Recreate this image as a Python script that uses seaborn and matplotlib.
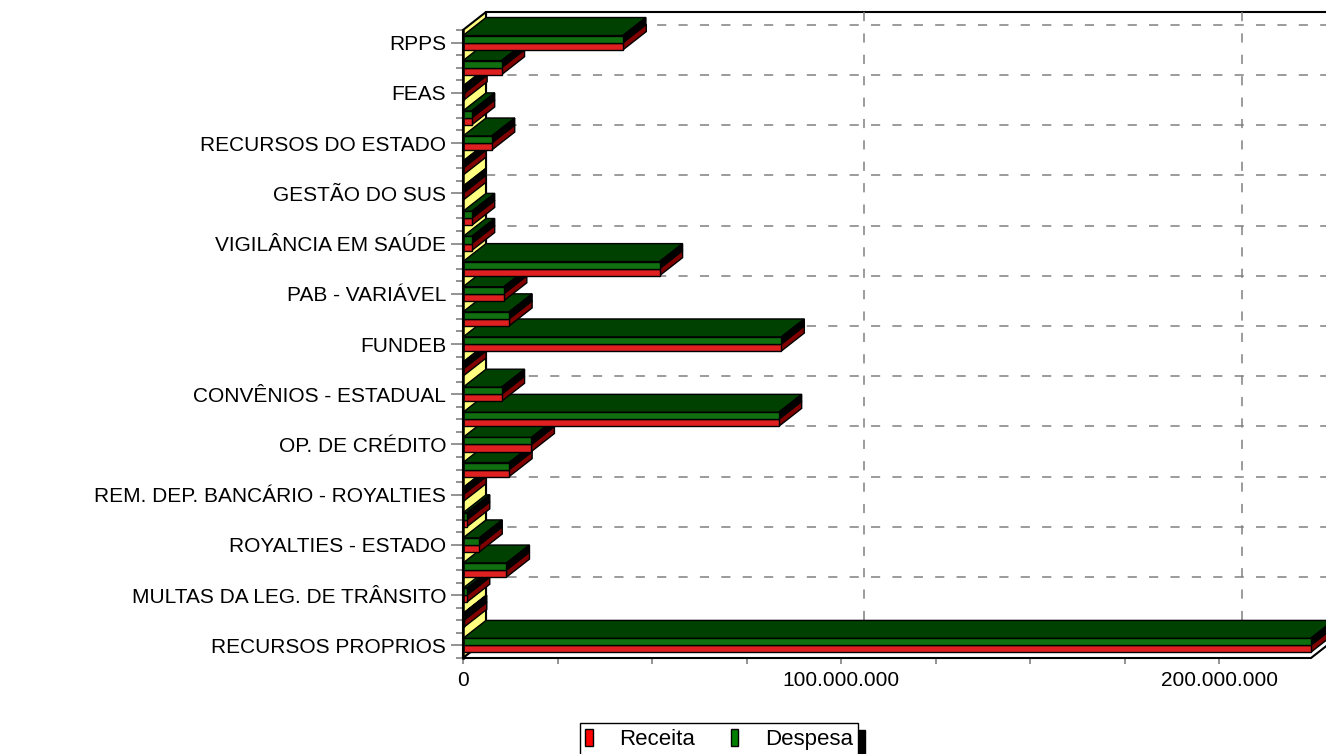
import matplotlib
matplotlib.use("Agg")
import numpy as np
import pandas as pd
import matplotlib.pyplot as plt
from matplotlib.patches import Polygon, Rectangle, Patch
from matplotlib.ticker import FuncFormatter, MultipleLocator
import seaborn as sns

# rotulos que aparecem no eixo (uma fonte sim, outra nao)
labels = ["RPPS", "FEAS", "RECURSOS DO ESTADO", "GESTÃO DO SUS",
          "VIGILÂNCIA EM SAÚDE", "PAB - VARIÁVEL", "FUNDEB",
          "CONVÊNIOS - ESTADUAL", "OP. DE CRÉDITO",
          "REM. DEP. BANCÁRIO - ROYALTIES", "ROYALTIES - ESTADO",
          "MULTAS DA LEG. DE TRÂNSITO", "RECURSOS PROPRIOS"]

# valores em R$ por fonte, de cima para baixo (25 fontes)
receita = [42.4e6, 10.2e6, 0.3e6, 2.3e6, 7.6e6, 0, 0, 2.3e6, 2.3e6, 52.0e6,
           10.8e6, 12.2e6, 84.2e6, 0, 10.2e6, 83.5e6, 18.1e6, 12.2e6, 0,
           1.0e6, 4.3e6, 11.5e6, 1.0e6, 0.2e6, 224.2e6]
despesa = [42.3e6, 10.2e6, 0.5e6, 2.3e6, 7.6e6, 0, 0, 2.3e6, 2.3e6, 52.0e6,
           10.8e6, 12.2e6, 84.2e6, 0, 10.2e6, 83.5e6, 18.1e6, 12.2e6, 0,
           1.0e6, 4.3e6, 11.5e6, 1.0e6, 0.2e6, 224.2e6]

n = len(receita)
pos = list(range(n))
df = pd.DataFrame({
    "pos": pos + pos,
    "valor": receita + despesa,
    "serie": ["Receita"] * n + ["Despesa"] * n,
})

sns.set_style("white")
plt.rcParams["font.family"] = ["Liberation Sans", "DejaVu Sans"]
plt.rcParams["text.color"] = "black"
FS = 15

W, H = 1326, 754
fig = plt.figure(figsize=(W / 100, H / 100), dpi=100)
ax = fig.add_axes([463 / W, 1 - 658 / H, (1311 - 463) / W, (658 - 30) / H])
ax.patch.set_visible(False)

cores = {"Receita": "#FF0000", "Despesa": "#008000"}
sns.barplot(data=df, x="valor", y="pos", hue="serie", hue_order=["Despesa", "Receita"],
            palette=cores, orient="h", width=0.56, edgecolor="black", linewidth=1,
            errorbar=None, legend=False, ax=ax)
bars = list(ax.patches)

xmax = 224.3e6
ax.set_xlim(0, xmax)
ax.set_ylim(n - 0.5, -0.5)

# profundidade do efeito 3D, em pixels convertidos para dados
ddx = 23 * xmax / (ax.bbox.width)
ddy = 18 * n / (ax.bbox.height)
top, bot = -0.5, n - 0.5

# paredes
ax.add_patch(Rectangle((ddx, top - ddy), xmax, n, facecolor="white", edgecolor="black",
                       lw=1.5, zorder=1, clip_on=False))
ax.add_patch(Polygon([(0, bot), (0, top), (ddx, top - ddy), (ddx, bot - ddy)],
                     facecolor="#FFFF80", edgecolor="black", lw=1.5, zorder=2, clip_on=False))
ax.add_patch(Polygon([(0, bot), (xmax, bot), (xmax + ddx, bot - ddy), (ddx, bot - ddy)],
                     facecolor="white", edgecolor="black", lw=1.5, zorder=2, clip_on=False))
grade = dict(color="gray", ls=(0, (6, 8)), lw=1.1, zorder=3, clip_on=False)
for v in [100e6, 200e6]:
    ax.plot([v + ddx, v + ddx], [top - ddy, bot - ddy], **grade)
for p in pos[::2]:
    ax.plot([ddx, xmax + ddx], [p - ddy, p - ddy], **grade)

# faces de cima e laterais, desenhadas de baixo para cima
bars = sorted(bars, key=lambda b: -b.get_y())
for k, b in enumerate(bars):
    x0, x1 = b.get_x(), b.get_x() + b.get_width()
    y0 = b.get_y()
    y1 = y0 + b.get_height()
    fc = b.get_facecolor()
    verde = fc[1] > fc[0]
    z = 10 + 2 * k
    ax.add_patch(Polygon([(x0, y0), (x1, y0), (x1 + ddx, y0 - ddy), (x0 + ddx, y0 - ddy)],
                         facecolor="#004000", edgecolor="black", lw=1, zorder=z, clip_on=False))
    ax.add_patch(Polygon([(x1, y0), (x1, y1), (x1 + ddx, y1 - ddy), (x1 + ddx, y0 - ddy)],
                         facecolor="black" if verde else "#800000", edgecolor="black", lw=1,
                         zorder=z, clip_on=False))
    b.set_zorder(z + 1)
    b.set_clip_on(False)

# eixos
sns.despine(ax=ax, top=True, right=True, bottom=True)
ax.spines["left"].set_zorder(200)
ax.spines["left"].set_linewidth(1.8)
ax.spines["left"].set_color("black")
ax.xaxis.set_major_locator(MultipleLocator(100e6))
ax.xaxis.set_minor_locator(MultipleLocator(25e6))
ax.xaxis.set_major_formatter(FuncFormatter(lambda v, _: f"{int(round(v)):,}".replace(",", ".")))
ax.tick_params(axis="x", which="both", bottom=True, length=4, width=1.2, color="gray",
               labelsize=FS, labelcolor="black", pad=5)
ax.set_yticks(pos[::2], labels)
ax.set_yticks(np.arange(-0.5, n, 0.5), minor=True)
ax.tick_params(axis="y", which="major", left=True, length=9, width=1.2, color="gray",
               labelsize=FS, labelcolor="black", pad=3)
ax.tick_params(axis="y", which="minor", left=True, length=5, width=1.2, color="gray")
ax.set_xlabel("")
ax.set_ylabel("")

handles = [Patch(facecolor=cores["Receita"], edgecolor="black", label="Receita"),
           Patch(facecolor=cores["Despesa"], edgecolor="black", label="Despesa")]
fig.legend(handles=handles, loc="upper center", bbox_to_anchor=(719 / W, 1 - 723 / H), ncol=2,
           frameon=True, fancybox=False, edgecolor="black", framealpha=1, fontsize=16,
           shadow={"facecolor": "black", "edgecolor": "black", "alpha": 1, "ox": 5, "oy": -5},
           handlelength=0.33, handleheight=0.85, handletextpad=1.2, columnspacing=1.6,
           borderaxespad=0, borderpad=0.25)

fig.savefig("out.png", dpi=100)
